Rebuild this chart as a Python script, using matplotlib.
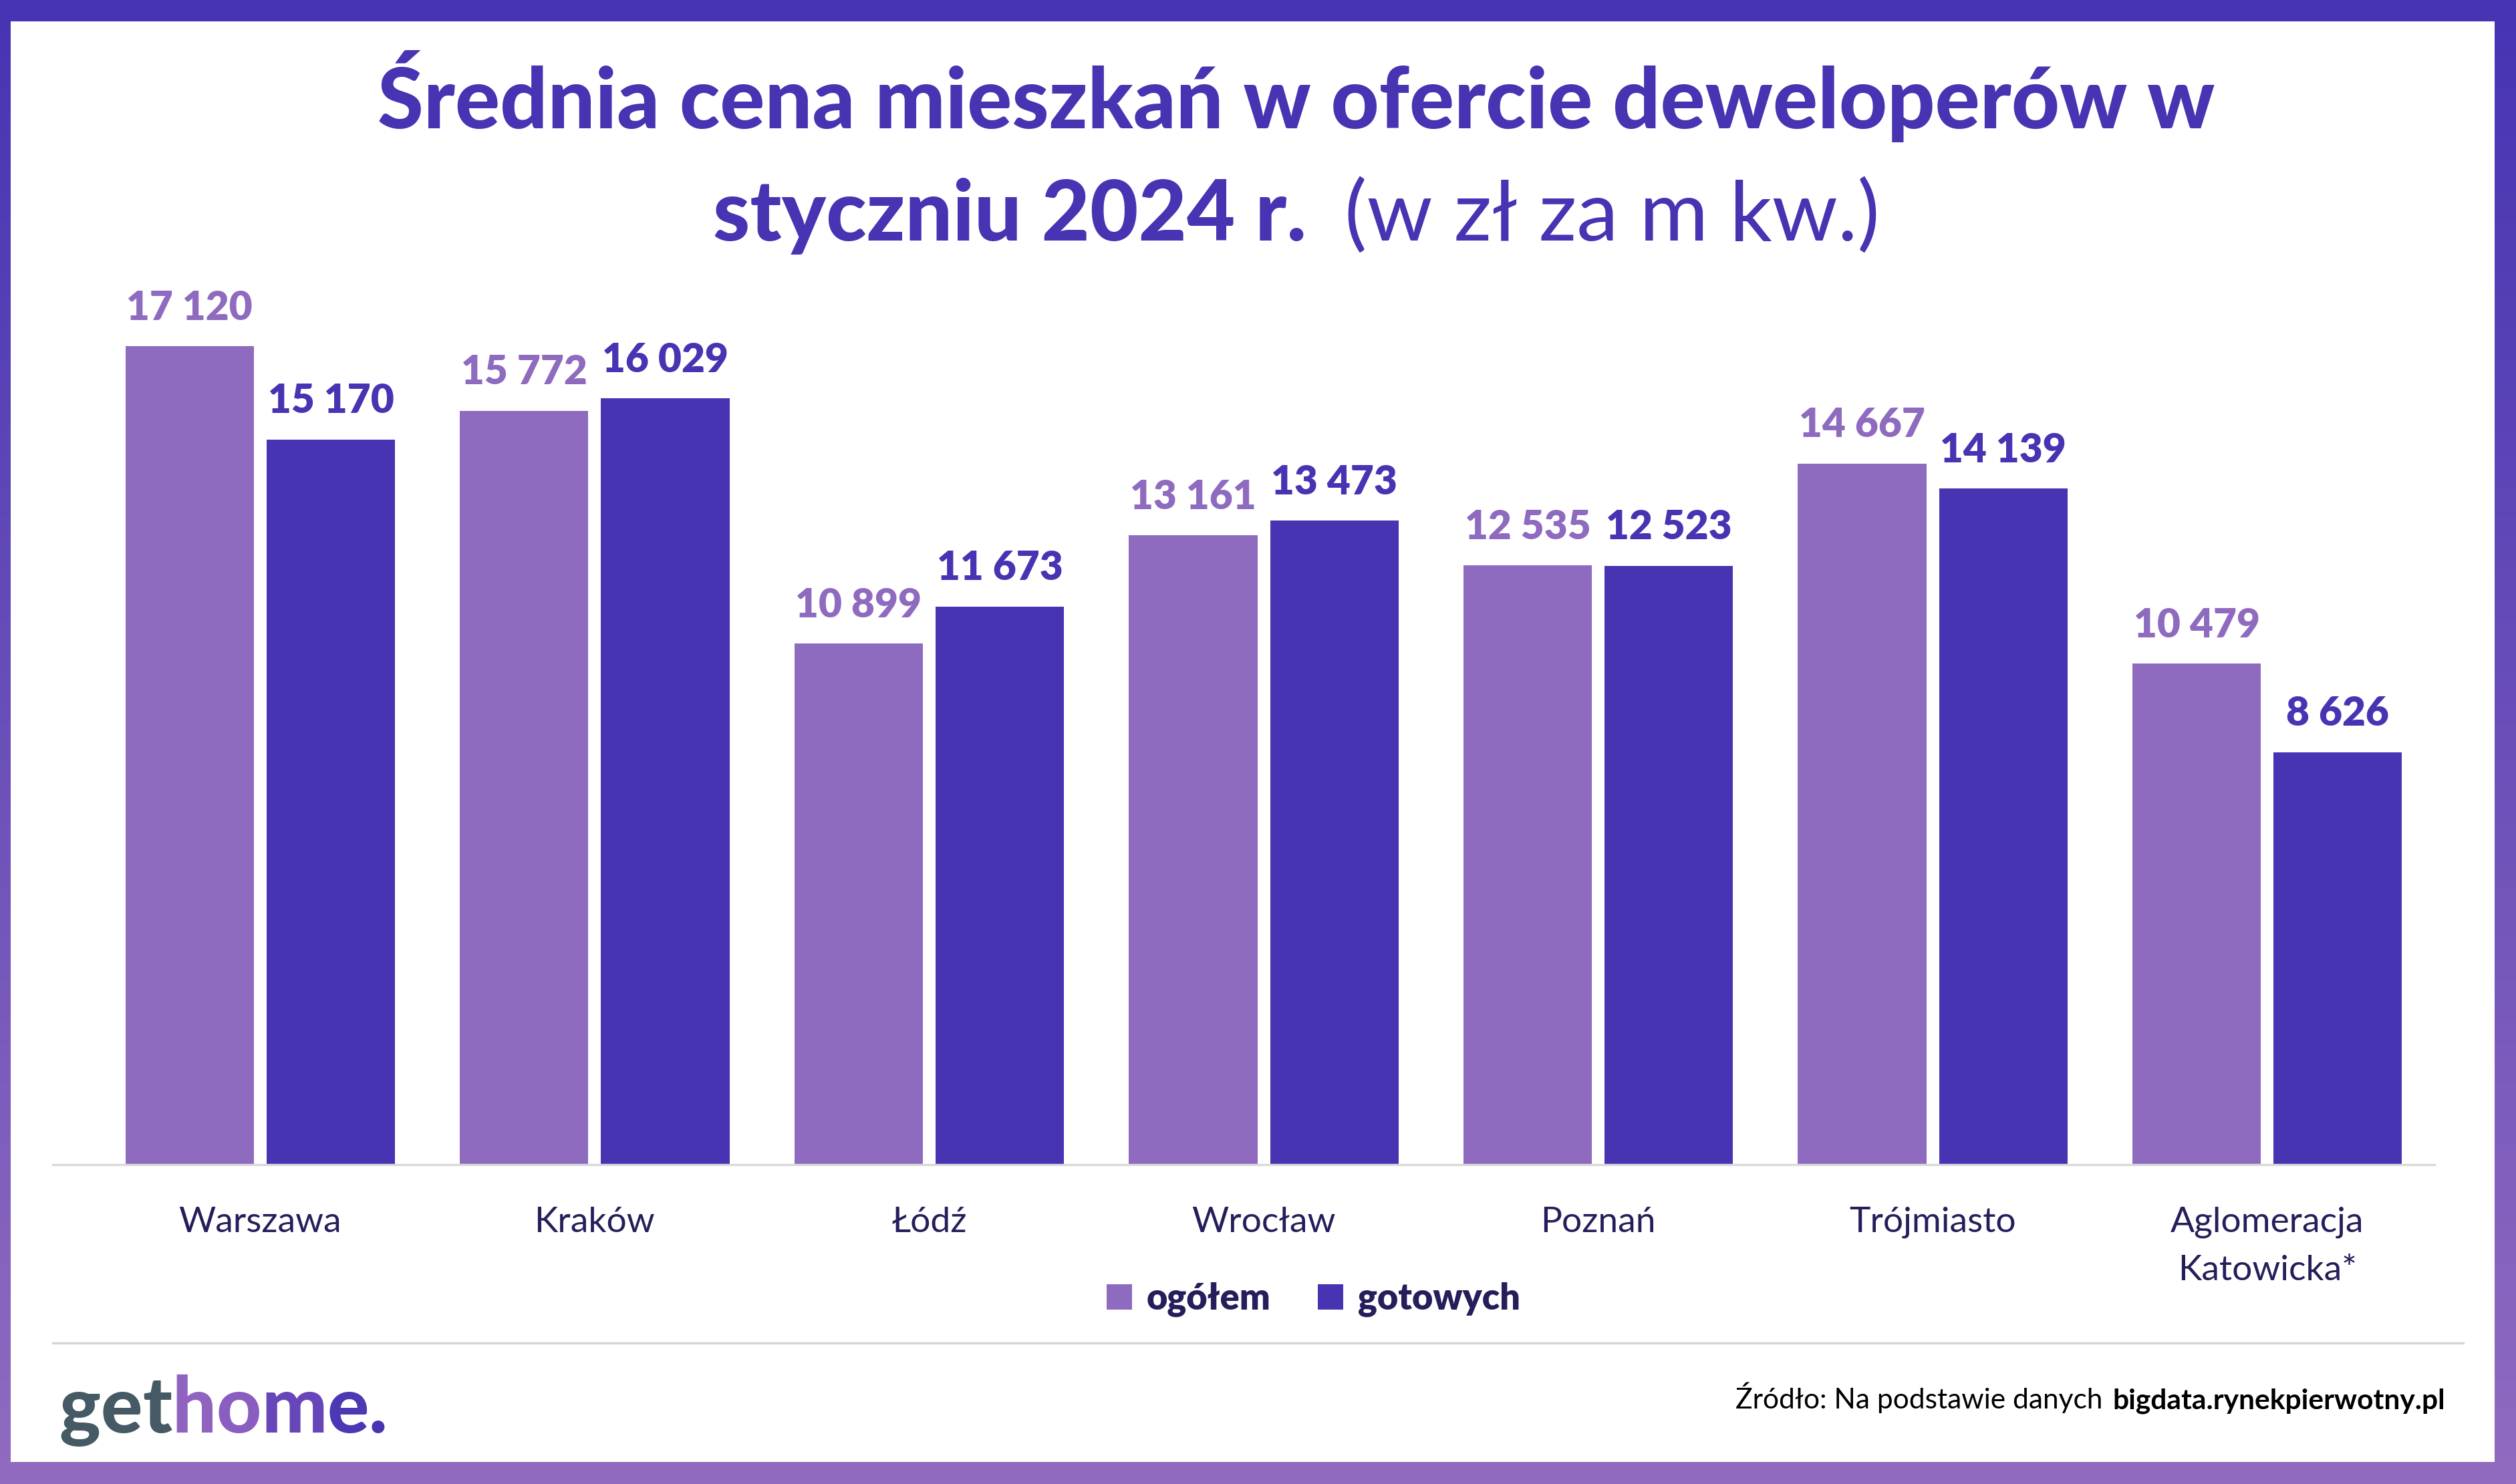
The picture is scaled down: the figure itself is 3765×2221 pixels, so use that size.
import matplotlib.pyplot as plt
import numpy as np
from matplotlib.patches import Rectangle, Patch
from matplotlib.lines import Line2D

plt.rcParams['font.family'] = ['Lato', 'DejaVu Sans']

# data
cities = ['Warszawa', 'Kraków', 'Łódź', 'Wrocław', 'Poznań', 'Trójmiasto',
          'Aglomeracja\nKatowicka*']
ogolem = [17120, 15772, 10899, 13161, 12535, 14667, 10479]
gotowych = [15170, 16029, 11673, 13473, 12523, 14139, 8626]
series_names = ['ogółem', 'gotowych']

light = '#8F6BC0'
dark = '#4634B3'
navy = '#241F5B'

W, H = 3765, 2221
fig = plt.figure(figsize=(W / 300, H / 300), dpi=300)

# gradient frame
bg = fig.add_axes([0, 0, 1, 1], zorder=-10)
grad = np.linspace(0, 1, 256).reshape(-1, 1)
c_top = np.array([0x46, 0x34, 0xB3]) / 255
c_bot = np.array([0x90, 0x6B, 0xC0]) / 255
img = c_top[None, None, :] * (1 - grad[:, :, None]) + c_bot[None, None, :] * grad[:, :, None]
bg.imshow(img, extent=[0, 1, 0, 1], aspect='auto', origin='upper')
bg.add_patch(Rectangle((16 / W, 33 / H), (3733 - 16) / W, (2189 - 33) / H,
                       facecolor='white', edgecolor='none'))
bg.set_xlim(0, 1)
bg.set_ylim(0, 1)
bg.axis('off')

# main chart
ax = fig.add_axes([79 / W, 478 / H, (3643 - 79) / W, (1743 - 408) / H])
x = np.arange(len(cities))
bw = 0.384
off = 0.211
b1 = ax.bar(x - off, ogolem, bw, color=light, zorder=2)
b2 = ax.bar(x + off, gotowych, bw, color=dark, zorder=2)

for bars, vals, col in [(b1, ogolem, light), (b2, gotowych, dark)]:
    for rect, v in zip(bars, vals):
        ax.annotate(f"{v:,}".replace(',', ' '),
                    (rect.get_x() + rect.get_width() / 2, v),
                    xytext=(0, 9.5), textcoords='offset points',
                    ha='center', va='baseline', color=col,
                    fontsize=14.5, fontweight='heavy')

ax.set_xlim(-0.62, 6.5)
ax.set_ylim(0, 18660)
ax.set_xticks(x)
ax.set_xticklabels(cities, fontsize=12.8, color=navy, linespacing=1.65)
ax.tick_params(axis='x', length=0, pad=15)
ax.set_yticks([])
for s in ['top', 'left', 'right']:
    ax.spines[s].set_visible(False)
ax.spines['bottom'].set_color('#D9D9D9')
ax.spines['bottom'].set_linewidth(0.8)
ax.set_facecolor('none')

# legend
handles = [Patch(facecolor=light), Patch(facecolor=dark)]
leg = fig.legend(handles, series_names, loc='center', bbox_to_anchor=(0.522, 1 - 810 / 925),
                 ncol=2, frameon=False, handlelength=0.7, handleheight=0.7,
                 handletextpad=0.4, columnspacing=1.3,
                 prop={'size': 13, 'weight': 'heavy'})
for t in leg.get_texts():
    t.set_color(navy)

# separator line
fig.add_artist(Line2D([33 / 1568, 1535 / 1568], [1 - 837 / 925] * 2,
                      color='#D5D5D5', lw=0.8))

renderer = fig.canvas.get_renderer()


def row(pieces, xpos, ypos, ha='center', gap=0.0):
    texts = [fig.text(0, ypos, s, ha='left', va='baseline', **kw) for s, kw in pieces]
    widths = [t.get_window_extent(renderer).width / fig.bbox.width for t in texts]
    total = sum(widths) + gap * (len(texts) - 1)
    if ha == 'center':
        start = xpos - total / 2
    elif ha == 'right':
        start = xpos - total
    else:
        start = xpos
    for t, w in zip(texts, widths):
        t.set_x(start)
        start += w + gap
    return texts


# title
fig.text(0.5153, 1 - 80 / 925, 'Średnia cena mieszkań w ofercie deweloperów w',
         ha='center', va='baseline', fontsize=30, fontweight='black', color=dark)
row([('styczniu 2024 r.', dict(fontsize=30, fontweight='black', color=dark)),
     ('(w zł za m kw.)', dict(fontsize=30, fontweight='normal', color=dark))],
    0.5153, 1 - 150 / 925, gap=0.015)

# source
row([('Źródło: Na podstawie danych', dict(fontsize=10.2, color='black')),
     ('bigdata.rynekpierwotny.pl', dict(fontsize=10.2, fontweight='bold', color='black'))],
    1524 / 1568, 1 - 878 / 925, ha='right', gap=0.004)

# logo
logo_cols = ['#455A64', '#455A64', '#455A64', '#9063C0', '#8A5EC0', '#6646B8', '#4C37B4', '#4634B3']
row([(ch, dict(fontsize=28, fontweight='black', color=c)) for ch, c in zip('gethome.', logo_cols)],
    37 / 1568, 1 - 893 / 925, ha='left')

fig.savefig('out.png', dpi=300)
